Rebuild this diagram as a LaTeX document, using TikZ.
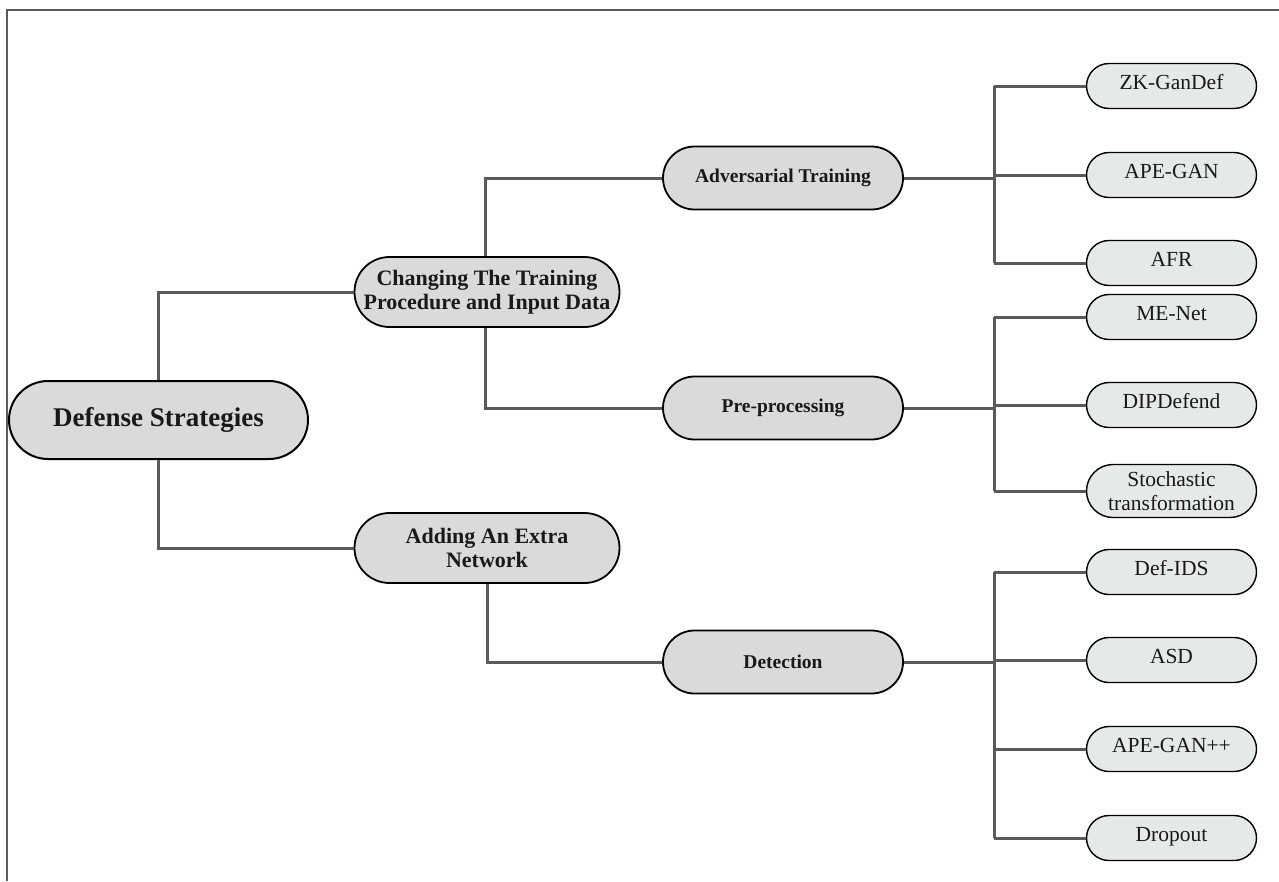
\documentclass[tikz,border=0pt]{standalone}
\usepackage{fontspec}
\setmainfont{Liberation Serif}
\definecolor{mainfill}{RGB}{218,218,218}
\definecolor{leaffill}{RGB}{229,233,233}
\definecolor{wire}{RGB}{90,90,90}
\definecolor{ink}{RGB}{25,25,25}
\begin{document}
\begin{tikzpicture}[x=1pt,y=-1pt,
  pill/.style={draw=black, fill=mainfill, text=ink, align=center, inner sep=0pt, font=\bfseries},
  rootbox/.style={pill, line width=2pt, minimum width=299pt, minimum height=78pt, rounded corners=39pt,
    font=\bfseries\fontsize{27}{30}\selectfont},
  groupbox/.style={pill, line width=1.8pt, minimum width=265pt, minimum height=70pt, rounded corners=35pt,
    font=\bfseries\fontsize{22}{24}\selectfont},
  methodbox/.style={pill, line width=1.8pt, minimum width=240pt, minimum height=63pt, rounded corners=31.5pt,
    font=\bfseries\fontsize{19.5}{22}\selectfont},
  leafshape/.style={draw=black, fill=leaffill, text=ink, align=center, inner sep=0pt, line width=1.4pt,
    minimum width=170pt, font=\fontsize{21.5}{24}\selectfont},
  leafbox/.style={leafshape, minimum height=45pt, rounded corners=22.5pt, text height=14pt, text depth=8pt},
  wirepath/.style={draw=wire, line width=3pt}
]
\useasboundingbox (0,0) rectangle (1279,881);
% outer frame (top and left edges)
\draw[draw=wire, line width=1.6pt] (7,881) -- (7,10) -- (1279,10);

% level 0 and 1
\node[rootbox]  (root) at (158.5,420) {Defense Strategies};
\node[groupbox] (chg)  at (487,292) {Changing The Training\\Procedure and Input Data};
\node[groupbox] (add)  at (487,548) {Adding An Extra\\Network};

% level 2
\node[methodbox] (adv) at (783,178) {Adversarial Training};
\node[methodbox] (pre) at (783,408) {Pre-processing};
\node[methodbox] (det) at (783,662) {Detection};

% leaves
\node[leafbox] (zk)    at (1171.5,86)  {ZK-GanDef};
\node[leafbox] (apeg)  at (1171.5,175) {APE-GAN};
\node[leafbox] (afr)   at (1171.5,263) {AFR};
\node[leafbox] (menet) at (1171.5,317) {ME-Net};
\node[leafbox] (dip)   at (1171.5,405) {DIPDefend};
\node[leafshape, minimum height=53pt, rounded corners=26.5pt] (sto) at (1171.5,491) {Stochastic\\transformation};
\node[leafbox] (defids) at (1171.5,572) {Def-IDS};
\node[leafbox] (asd)    at (1171.5,660) {ASD};
\node[leafbox] (apepp)  at (1171.5,749) {APE-GAN++};
\node[leafbox] (drop)   at (1171.5,838) {Dropout};

% bus coordinates
\coordinate (busA) at (994,178);
\coordinate (busB) at (994,408);
\coordinate (busC) at (994,662);

% elbow connectors
\path[wirepath] (root.north) |- (chg.west);
\path[wirepath] (root.south) |- (add.west);
\path[wirepath] ([xshift=-2pt]chg.north) |- (adv.west);
\path[wirepath] ([xshift=-2pt]chg.south) |- (pre.west);
\path[wirepath] (add.south) |- (det.west);

% leaf buses
\path[wirepath] (adv.east) -- (busA);
\path[wirepath] (busA |- zk.west) -- (busA |- afr.west);
\foreach \n in {zk,apeg,afr} \path[wirepath] (busA |- \n.west) -- (\n.west);
\path[wirepath] (pre.east) -- (busB);
\path[wirepath] (busB |- menet.west) -- (busB |- sto.west);
\foreach \n in {menet,dip,sto} \path[wirepath] (busB |- \n.west) -- (\n.west);
\path[wirepath] (det.east) -- (busC);
\path[wirepath] (busC |- defids.west) -- (busC |- drop.west);
\foreach \n in {defids,asd,apepp,drop} \path[wirepath] (busC |- \n.west) -- (\n.west);
\end{tikzpicture}
\end{document}
